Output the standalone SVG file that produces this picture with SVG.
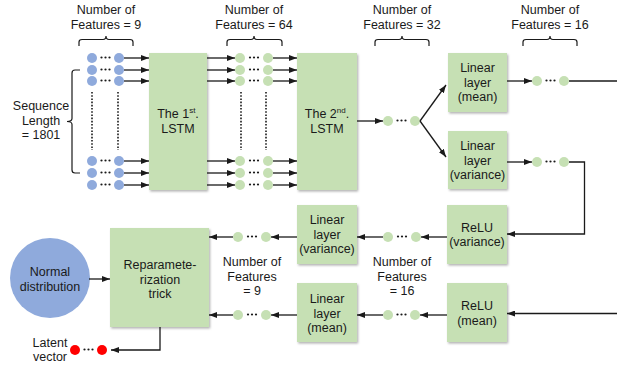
<svg xmlns="http://www.w3.org/2000/svg" width="617" height="366" viewBox="0 0 617 366">
  <defs>
    <marker id="arrow" viewBox="0 0 8 6" refX="8" refY="3" markerWidth="8" markerHeight="6" markerUnits="userSpaceOnUse" orient="auto">
      <path d="M0,0 L8,3 L0,6 z" fill="#1a1a1a"/>
    </marker>
    <filter id="shadow" x="-10%" y="-10%" width="130%" height="130%">
      <feDropShadow dx="1.2" dy="1.5" stdDeviation="0.8" flood-color="#000" flood-opacity="0.3"/>
    </filter>
  </defs>
  <style>
    text { font-family: "Liberation Sans", Arial, sans-serif; font-size: 12.5px; fill: #1a1a1a; text-anchor: middle; }
    .box { fill: #c6e0b4; filter: url(#shadow); }
    .g { fill: #c6e0b4; }
    .b { fill: #8faadc; }
    .r { fill: #ff0000; }
    .ell { fill: #1a1a1a; }
    .ln { stroke: #1a1a1a; stroke-width: 1.3; fill: none; }
    .arr { stroke: #1a1a1a; stroke-width: 1.3; fill: none; marker-end: url(#arrow); }
    .dot { stroke: #1a1a1a; stroke-width: 1.6; stroke-dasharray: 1.6 1.6; fill: none; }
    .brace { stroke: #1a1a1a; stroke-width: 1.2; fill: none; }
  </style>

  <!-- Feature-count labels and braces -->
  <g id="label-features-9">
    <text x="106" y="13.5">Number of</text>
    <text x="106" y="28.5">Features = 9</text>
    <path class="brace" d="M79,46 L79,42 Q79,39.5 82,39.5 L103,39.5 Q106,39.5 106,36 Q106,39.5 109,39.5 L130,39.5 Q133,39.5 133,42 L133,46"/>
  </g>
  <g id="label-features-64">
    <text x="254" y="13.5">Number of</text>
    <text x="254" y="28.5">Features = 64</text>
    <path class="brace" d="M227,46 L227,42 Q227,39.5 230,39.5 L251,39.5 Q254,39.5 254,36 Q254,39.5 257,39.5 L279,39.5 Q282,39.5 282,42 L282,46"/>
  </g>
  <g id="label-features-32">
    <text x="402" y="13.5">Number of</text>
    <text x="402" y="28.5">Features = 32</text>
    <path class="brace" d="M375,46 L375,42 Q375,39.5 378,39.5 L399,39.5 Q402,39.5 402,36 Q402,39.5 405,39.5 L426,39.5 Q429,39.5 429,42 L429,46"/>
  </g>
  <g id="label-features-16">
    <text x="550" y="13.5">Number of</text>
    <text x="550" y="28.5">Features = 16</text>
    <path class="brace" d="M523,46 L523,42 Q523,39.5 526,39.5 L547,39.5 Q550,39.5 550,36 Q550,39.5 553,39.5 L574,39.5 Q577,39.5 577,42 L577,46"/>
  </g>
  <g id="label-sequence">
    <text x="41" y="110">Sequence</text>
    <text x="41" y="124.5">Length</text>
    <text x="41" y="139">= 1801</text>
    <path class="brace" d="M80,70 L75,70 Q72,70 72,73 L72,118.5 Q72,121.5 67,121.5 Q72,121.5 72,124.5 L72,170 Q72,173 75,173 L80,173"/>
  </g>

  <!-- Input sequence (9 features) -->
  <g id="input-sequence">
    <circle class="b" cx="92" cy="58" r="5"/><circle class="b" cx="119" cy="58" r="5"/>
    <circle class="b" cx="92" cy="70" r="5"/><circle class="b" cx="119" cy="70" r="5"/>
    <circle class="b" cx="92" cy="81" r="5"/><circle class="b" cx="119" cy="81" r="5"/>
    <circle class="b" cx="92" cy="161" r="5"/><circle class="b" cx="119" cy="161" r="5"/>
    <circle class="b" cx="92" cy="173" r="5"/><circle class="b" cx="119" cy="173" r="5"/>
    <circle class="b" cx="92" cy="185" r="5"/><circle class="b" cx="119" cy="185" r="5"/>
    <g class="ell">
      <circle cx="101.5" cy="57.5" r="1.1"/><circle cx="105.5" cy="57.5" r="1.1"/><circle cx="109.5" cy="57.5" r="1.1"/>
      <circle cx="101.5" cy="69.5" r="1.1"/><circle cx="105.5" cy="69.5" r="1.1"/><circle cx="109.5" cy="69.5" r="1.1"/>
      <circle cx="101.5" cy="80.5" r="1.1"/><circle cx="105.5" cy="80.5" r="1.1"/><circle cx="109.5" cy="80.5" r="1.1"/>
      <circle cx="101.5" cy="160.5" r="1.1"/><circle cx="105.5" cy="160.5" r="1.1"/><circle cx="109.5" cy="160.5" r="1.1"/>
      <circle cx="101.5" cy="172.5" r="1.1"/><circle cx="105.5" cy="172.5" r="1.1"/><circle cx="109.5" cy="172.5" r="1.1"/>
      <circle cx="101.5" cy="184.5" r="1.1"/><circle cx="105.5" cy="184.5" r="1.1"/><circle cx="109.5" cy="184.5" r="1.1"/>
    </g>
    <line class="dot" x1="92" y1="92" x2="92" y2="150"/>
    <line class="dot" x1="118" y1="92" x2="118" y2="150"/>
  </g>

  <!-- First LSTM -->
  <g id="lstm1">
    <rect class="box" x="149" y="53" width="58" height="137"/>
    <text x="178" y="118">The 1<tspan font-size="8" dy="-5">st</tspan><tspan dy="5">.</tspan></text>
    <text x="178" y="132.5">LSTM</text>
  </g>

  <!-- Hidden sequence (64 features) -->
  <g id="hidden-sequence">
    <circle class="g" cx="240" cy="58" r="5"/><circle class="g" cx="268" cy="58" r="5"/>
    <circle class="g" cx="240" cy="70" r="5"/><circle class="g" cx="268" cy="70" r="5"/>
    <circle class="g" cx="240" cy="81" r="5"/><circle class="g" cx="268" cy="81" r="5"/>
    <circle class="g" cx="240" cy="161" r="5"/><circle class="g" cx="268" cy="161" r="5"/>
    <circle class="g" cx="240" cy="173" r="5"/><circle class="g" cx="268" cy="173" r="5"/>
    <circle class="g" cx="240" cy="185" r="5"/><circle class="g" cx="268" cy="185" r="5"/>
    <g class="ell">
      <circle cx="250" cy="57.5" r="1.1"/><circle cx="254" cy="57.5" r="1.1"/><circle cx="258" cy="57.5" r="1.1"/>
      <circle cx="250" cy="69.5" r="1.1"/><circle cx="254" cy="69.5" r="1.1"/><circle cx="258" cy="69.5" r="1.1"/>
      <circle cx="250" cy="80.5" r="1.1"/><circle cx="254" cy="80.5" r="1.1"/><circle cx="258" cy="80.5" r="1.1"/>
      <circle cx="250" cy="160.5" r="1.1"/><circle cx="254" cy="160.5" r="1.1"/><circle cx="258" cy="160.5" r="1.1"/>
      <circle cx="250" cy="172.5" r="1.1"/><circle cx="254" cy="172.5" r="1.1"/><circle cx="258" cy="172.5" r="1.1"/>
      <circle cx="250" cy="184.5" r="1.1"/><circle cx="254" cy="184.5" r="1.1"/><circle cx="258" cy="184.5" r="1.1"/>
    </g>
    <line class="dot" x1="241" y1="92" x2="241" y2="150"/>
    <line class="dot" x1="266" y1="92" x2="266" y2="150"/>
  </g>

  <!-- Second LSTM -->
  <g id="lstm2">
    <rect class="box" x="297" y="53" width="60" height="137"/>
    <text x="327" y="118">The 2<tspan font-size="8" dy="-5">nd</tspan><tspan dy="5">.</tspan></text>
    <text x="327" y="132.5">LSTM</text>
  </g>

  <!-- Encoded vector (32 features) -->
  <g id="encoded-vector">
    <circle class="g" cx="388" cy="121" r="5"/><circle class="g" cx="415" cy="121" r="5"/>
    <g class="ell"><circle cx="397.5" cy="120.5" r="1.1"/><circle cx="401.5" cy="120.5" r="1.1"/><circle cx="405.5" cy="120.5" r="1.1"/></g>
  </g>

  <g id="linear-mean-1">
    <rect class="box" x="448" y="53" width="59" height="59"/>
    <text x="477.5" y="72">Linear</text>
    <text x="477.5" y="86.5">layer</text>
    <text x="477.5" y="101">(mean)</text>
  </g>
  <g id="linear-variance-1">
    <rect class="box" x="448" y="131" width="59" height="58"/>
    <text x="477.5" y="150">Linear</text>
    <text x="477.5" y="164.5">layer</text>
    <text x="477.5" y="179">(variance)</text>
  </g>

  <g id="mean-vector-1">
    <circle class="g" cx="537" cy="81" r="5"/><circle class="g" cx="564" cy="81" r="5"/>
    <g class="ell"><circle cx="546.5" cy="80.5" r="1.1"/><circle cx="550.5" cy="80.5" r="1.1"/><circle cx="554.5" cy="80.5" r="1.1"/></g>
  </g>
  <g id="variance-vector-1">
    <circle class="g" cx="537" cy="162" r="5"/><circle class="g" cx="564" cy="162" r="5"/>
    <g class="ell"><circle cx="546.5" cy="161.5" r="1.1"/><circle cx="550.5" cy="161.5" r="1.1"/><circle cx="554.5" cy="161.5" r="1.1"/></g>
  </g>

  <g id="relu-variance">
    <rect class="box" x="447" y="205" width="60" height="59"/>
    <text x="477" y="231.5">ReLU</text>
    <text x="477" y="246">(variance)</text>
  </g>
  <g id="relu-mean">
    <rect class="box" x="447" y="283" width="60" height="59"/>
    <text x="477" y="310">ReLU</text>
    <text x="477" y="324.5">(mean)</text>
  </g>

  <g id="variance-vector-2">
    <circle class="g" cx="388" cy="237" r="5"/><circle class="g" cx="416" cy="237" r="5"/>
    <g class="ell"><circle cx="398" cy="236.5" r="1.1"/><circle cx="402" cy="236.5" r="1.1"/><circle cx="406" cy="236.5" r="1.1"/></g>
  </g>
  <g id="mean-vector-2">
    <circle class="g" cx="388" cy="315" r="5"/><circle class="g" cx="415" cy="315" r="5"/>
    <g class="ell"><circle cx="397.5" cy="314.5" r="1.1"/><circle cx="401.5" cy="314.5" r="1.1"/><circle cx="405.5" cy="314.5" r="1.1"/></g>
  </g>
  <g id="label-features-16-lower">
    <text x="402" y="266">Number of</text>
    <text x="402" y="280.5">Features</text>
    <text x="402" y="295">= 16</text>
  </g>

  <g id="linear-variance-2">
    <rect class="box" x="297" y="205" width="60" height="59"/>
    <text x="327" y="224">Linear</text>
    <text x="327" y="238.5">layer</text>
    <text x="327" y="253">(variance)</text>
  </g>
  <g id="linear-mean-2">
    <rect class="box" x="297" y="283" width="60" height="59"/>
    <text x="327" y="303">Linear</text>
    <text x="327" y="317.5">layer</text>
    <text x="327" y="332">(mean)</text>
  </g>

  <g id="variance-vector-3">
    <circle class="g" cx="238" cy="237" r="5"/><circle class="g" cx="266" cy="237" r="5"/>
    <g class="ell"><circle cx="248" cy="236.5" r="1.1"/><circle cx="252" cy="236.5" r="1.1"/><circle cx="256" cy="236.5" r="1.1"/></g>
  </g>
  <g id="mean-vector-3">
    <circle class="g" cx="238" cy="315" r="5"/><circle class="g" cx="266" cy="315" r="5"/>
    <g class="ell"><circle cx="248" cy="314.5" r="1.1"/><circle cx="252" cy="314.5" r="1.1"/><circle cx="256" cy="314.5" r="1.1"/></g>
  </g>
  <g id="label-features-9-lower">
    <text x="252" y="266">Number of</text>
    <text x="252" y="280.5">Features</text>
    <text x="252" y="295">= 9</text>
  </g>

  <g id="normal-distribution">
    <circle class="b" cx="50" cy="278" r="40"/>
    <text x="50" y="276">Normal</text>
    <text x="50" y="291">distribution</text>
  </g>

  <g id="reparameterization">
    <rect class="box" x="110" y="228" width="99" height="99"/>
    <text x="160" y="269">Reparamete-</text>
    <text x="160" y="283.5">rization</text>
    <text x="160" y="298">trick</text>
  </g>

  <g id="latent-vector">
    <text x="50" y="346.5">Latent</text>
    <text x="50" y="361">vector</text>
    <circle class="r" cx="75" cy="350" r="5"/><circle class="r" cx="102" cy="350" r="5"/>
    <g class="ell"><circle cx="84.5" cy="349.5" r="1.1"/><circle cx="88.5" cy="349.5" r="1.1"/><circle cx="92.5" cy="349.5" r="1.1"/></g>
  </g>

  <!-- Connectors -->
  <g id="connectors">
    <!-- input rows into the first LSTM -->
    <line class="arr" x1="124" y1="58" x2="149" y2="58"/>
    <line class="arr" x1="124" y1="70" x2="149" y2="70"/>
    <line class="arr" x1="124" y1="81" x2="149" y2="81"/>
    <line class="arr" x1="124" y1="161" x2="149" y2="161"/>
    <line class="arr" x1="124" y1="173" x2="149" y2="173"/>
    <line class="arr" x1="124" y1="185" x2="149" y2="185"/>
    <!-- first LSTM outputs -->
    <line class="arr" x1="207" y1="58" x2="235" y2="58"/>
    <line class="arr" x1="207" y1="70" x2="235" y2="70"/>
    <line class="arr" x1="207" y1="81" x2="235" y2="81"/>
    <line class="arr" x1="207" y1="161" x2="235" y2="161"/>
    <line class="arr" x1="207" y1="173" x2="235" y2="173"/>
    <line class="arr" x1="207" y1="185" x2="235" y2="185"/>
    <!-- into the second LSTM -->
    <line class="arr" x1="273" y1="58" x2="297" y2="58"/>
    <line class="arr" x1="273" y1="70" x2="297" y2="70"/>
    <line class="arr" x1="273" y1="81" x2="297" y2="81"/>
    <line class="arr" x1="273" y1="161" x2="297" y2="161"/>
    <line class="arr" x1="273" y1="173" x2="297" y2="173"/>
    <line class="arr" x1="273" y1="185" x2="297" y2="185"/>
    <!-- second LSTM output -->
    <line class="arr" x1="357" y1="121" x2="383" y2="121"/>
    <!-- fork to the linear layers -->
    <line class="arr" x1="420" y1="121" x2="446" y2="85"/>
    <line class="arr" x1="420" y1="121" x2="446" y2="157"/>
    <!-- linear layer outputs -->
    <line class="arr" x1="507" y1="81" x2="532" y2="81"/>
    <line class="arr" x1="507" y1="162" x2="532" y2="162"/>
    <line class="ln" x1="569" y1="81" x2="617" y2="81"/>
    <polyline class="arr" points="569,162 584.5,162 584.5,234 507,234"/>
    <line class="arr" x1="617" y1="313.5" x2="507" y2="313.5"/>
    <!-- ReLU to second linear layers -->
    <line class="arr" x1="447" y1="237" x2="421" y2="237"/>
    <line class="arr" x1="383" y1="237" x2="357" y2="237"/>
    <line class="arr" x1="447" y1="315" x2="420" y2="315"/>
    <line class="arr" x1="383" y1="315" x2="357" y2="315"/>
    <!-- into the reparameterization trick -->
    <line class="arr" x1="297" y1="237" x2="271" y2="237"/>
    <line class="arr" x1="233" y1="237" x2="209" y2="237"/>
    <line class="arr" x1="297" y1="315" x2="271" y2="315"/>
    <line class="arr" x1="233" y1="315" x2="209" y2="315"/>
    <line class="arr" x1="89" y1="279" x2="110" y2="279"/>
    <!-- latent vector output -->
    <polyline class="arr" points="160,327 160,350 111,350"/>
  </g>
</svg>
